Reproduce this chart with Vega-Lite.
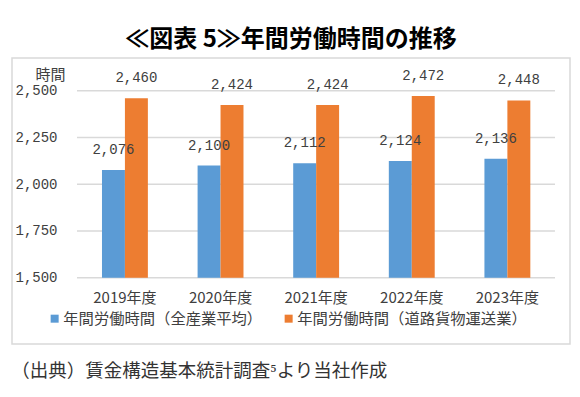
{
  "$schema": "https://vega.github.io/schema/vega-lite/v6.json",
  "padding": {"left": 11, "top": 27, "right": 10, "bottom": 10},
  "config": {
    "view": {"stroke": "#d9d9d9", "strokeWidth": 1.5},
    "font": "Noto Sans CJK JP",
    "axisY": {
      "grid": false, "domain": false,
      "ticks": false, "tickSize": 0, "labelPadding": 0, "offset": -45,
      "labelFont": "Liberation Mono", "labelFontSize": 14, "labelColor": "#404040",
      "titleAngle": 0, "titleAlign": "center", "titleBaseline": "middle",
      "titleX": -7, "titleY": 16, "titleFontSize": 15, "titleFontWeight": "normal", "titleColor": "#404040"
    }
  },
  "title": {
    "text": "（出典）賃金構造基本統計調査⁵より当社作成",
    "orient": "bottom",
    "anchor": "start",
    "fontSize": 18.5,
    "fontWeight": "normal",
    "color": "#333333",
    "offset": 17
  },
  "vconcat": [
    {
      "width": 558,
      "height": 286,
      "title": {
        "text": "≪図表 5≫年間労働時間の推移",
        "fontSize": 24,
        "fontWeight": "bold",
        "color": "#000000",
        "offset": 6,
        "anchor": "middle"
      },
      "data": {
        "values": [
          {"year": "2019年度", "series": "年間労働時間（全産業平均）", "value": 2076},
          {"year": "2019年度", "series": "年間労働時間（道路貨物運送業）", "value": 2460},
          {"year": "2020年度", "series": "年間労働時間（全産業平均）", "value": 2100},
          {"year": "2020年度", "series": "年間労働時間（道路貨物運送業）", "value": 2424},
          {"year": "2021年度", "series": "年間労働時間（全産業平均）", "value": 2112},
          {"year": "2021年度", "series": "年間労働時間（道路貨物運送業）", "value": 2424},
          {"year": "2022年度", "series": "年間労働時間（全産業平均）", "value": 2124},
          {"year": "2022年度", "series": "年間労働時間（道路貨物運送業）", "value": 2472},
          {"year": "2023年度", "series": "年間労働時間（全産業平均）", "value": 2136},
          {"year": "2023年度", "series": "年間労働時間（道路貨物運送業）", "value": 2448}
        ]
      },
      "layer": [
        {
          "data": {"values": [{"g": 1500}, {"g": 1750}, {"g": 2000}, {"g": 2250}, {"g": 2500}]},
          "mark": {"type": "rule", "color": "#d9d9d9", "strokeWidth": 1.5},
          "encoding": {
            "y": {
              "field": "g", "type": "quantitative",
              "scale": {"domain": [1145.5, 2674.9], "nice": false, "zero": false},
              "axis": {"title": "時間", "values": [1500, 1750, 2000, 2250, 2500], "labelExpr": "format(datum.value, ',')"}
            },
            "x": {"datum": 0, "type": "quantitative", "scale": {"domain": [-0.136, 1.0314], "nice": false, "zero": false}, "axis": null},
            "x2": {"datum": 1}
          }
        },
        {
          "mark": {"type": "bar"},
          "encoding": {
            "x": {
              "field": "year", "type": "nominal",
              "scale": {"paddingInner": 0.52, "paddingOuter": 0.678, "align": 0.694},
              "axis": {
                "orient": "bottom", "offset": -54, "domain": false, "ticks": false, "tickSize": 0,
                "labelPadding": 0, "labelFontSize": 15, "labelColor": "#404040", "labelAngle": 0,
                "labelBaseline": "top", "title": null
              }
            },
            "xOffset": {"field": "series", "type": "nominal", "sort": ["年間労働時間（全産業平均）", "年間労働時間（道路貨物運送業）"]},
            "y": {
              "field": "value", "type": "quantitative",
              "scale": {"domain": [1145.5, 2674.9], "nice": false, "zero": false},
              "axis": {"title": "時間", "values": [1500, 1750, 2000, 2250, 2500], "labelExpr": "format(datum.value, ',')"}
            },
            "y2": {"datum": 1500},
            "color": {
              "field": "series", "type": "nominal",
              "sort": ["年間労働時間（全産業平均）", "年間労働時間（道路貨物運送業）"],
              "scale": {"domain": ["年間労働時間（全産業平均）", "年間労働時間（道路貨物運送業）"], "range": ["#5B9BD5", "#ED7D31"]},
              "legend": {
                "orient": "none", "legendX": 35, "legendY": 253, "direction": "horizontal", "title": null,
                "symbolType": "square", "symbolSize": 64, "symbolStrokeWidth": 0, "labelLimit": 400,
                "labelFontSize": 15.3, "labelColor": "#404040", "columnPadding": 18, "labelOffset": 1
              }
            }
          }
        },
        {
          "mark": {"type": "text", "dy": -20, "baseline": "middle", "font": "Liberation Mono", "fontSize": 14, "color": "#404040"},
          "encoding": {
            "x": {
              "field": "year", "type": "nominal",
              "scale": {"paddingInner": 0.52, "paddingOuter": 0.678, "align": 0.694},
              "axis": null
            },
            "xOffset": {"field": "series", "type": "nominal", "sort": ["年間労働時間（全産業平均）", "年間労働時間（道路貨物運送業）"]},
            "y": {
              "field": "value", "type": "quantitative",
              "axis": {"title": "時間", "values": [1500, 1750, 2000, 2250, 2500], "labelExpr": "format(datum.value, ',')"}
            },
            "text": {"field": "value", "type": "quantitative", "format": ","}
          }
        }
      ],
      "resolve": {"scale": {"x": "independent"}}
    }
  ]
}
